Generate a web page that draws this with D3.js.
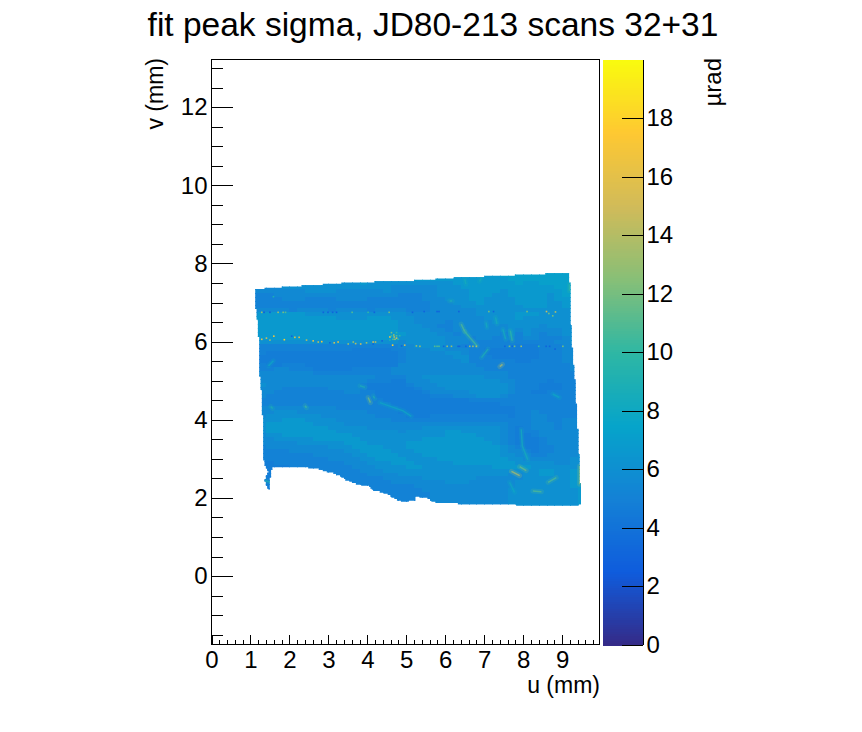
<!DOCTYPE html>
<html>
<head>
<meta charset="utf-8">
<script src="https://cdn.jsdelivr.net/npm/d3@7"></script>
<style>
  html, body { margin: 0; padding: 0; background: #fff; }
  svg { display: block; font-family: "Liberation Sans", Arial, sans-serif; }
  .axis path, .axis line { stroke: #000; stroke-width: 1; shape-rendering: crispEdges; }
  .axis text { fill: #000; font-size: 24px; font-family: "Liberation Sans", Arial, sans-serif; }
</style>
</head>
<body>
<svg id="chart" width="862" height="732"></svg>
<script>
// labels
const titleText = 'fit peak sigma, JD80-213 scans 32+31';
const xLabel = 'u (mm)';
const yLabel = 'v (mm)';
const zLabel = 'µrad';

// axis ranges and ticks
const xRange = [0, 9.96];
const yRange = [-1.75, 13.22];
const zRange = [0, 20];
const xTicks = [0, 1, 2, 3, 4, 5, 6, 7, 8, 9];
const yTicks = [0, 2, 4, 6, 8, 10, 12];
const zTicks = [0, 2, 4, 6, 8, 10, 12, 14, 16, 18];

// ROOT kBird palette
const birdStops = [0, 2.5, 5, 7.5, 10, 12.5, 15, 17.5, 20];
const birdColors = ['#352a87', '#0f5cdd', '#1481d6', '#06a4ca', '#2eb7a4', '#87bf77', '#d1bb59', '#fec832', '#f9fb0e'];

// sigma map: one string per row, one digit per cell
const gridU = d3.range(43).map(j => +(1.0 + 0.2 * j).toFixed(1));
const gridV = d3.range(61).map(i => +(7.8 - 0.1 * i).toFixed(1));
const levelValues = [3.9, 4.3, 4.7, 5.1, 5.6, 6.1, 6.7, 7.2, 7.7, 8.2];
const gridRows = [
  '66666 66666 66666 66666 66666 66666 66777 77777 777',
  '66666 66666 66666 66666 66666 66666 66777 77777 777',
  '55555 55555 55566 66666 66666 66666 66677 77777 777',
  '45555 55555 55556 55555 55555 56666 66667 66777 777',
  '44445 55555 55555 55544 44445 55666 66666 66667 777',
  '44444 44555 54444 44544 44445 55566 66566 66666 777',
  '33344 44444 44444 44443 33445 55566 65566 66656 777',
  '33334 44333 34444 33333 33444 55566 55556 66656 667',
  '33333 33333 33333 33333 33344 45556 55556 66655 667',
  '33333 33333 33333 33333 33344 44555 55555 66655 667',
  '44444 34444 34444 34444 33344 44445 55555 55555 567',
  '56666 66555 55555 55555 44444 44445 55556 66555 557',
  '66666 66666 65555 66655 54444 44444 55556 55555 556',
  '66666 66666 66666 66665 54444 34444 45555 55555 556',
  '66666 66666 66666 66665 55443 34444 44455 55455 556',
  '66666 66666 66666 66665 55544 34444 44454 54444 556',
  '66666 66666 66666 66666 55554 43444 44353 54344 555',
  '66666 66666 66666 66665 55555 44434 43343 44333 455',
  '55555 55555 55555 55554 55555 44433 33333 33334 455',
  '33333 33333 33333 33334 45555 44333 33332 22333 445',
  '33333 33333 33322 22233 44455 44433 22222 22333 445',
  '33222 22222 22222 22223 44444 55433 22222 22333 444',
  '22222 22222 22222 22223 44444 45533 32222 22333 444',
  '22222 22222 22222 22223 44444 44533 33332 23333 444',
  '33223 33222 22222 22224 44444 44443 33333 33333 344',
  '33344 33322 22233 33344 44444 44444 33333 33333 344',
  '44444 44433 33333 33344 44444 44444 44433 33333 334',
  '44444 44444 44444 43333 44555 55555 44433 33333 334',
  '44444 44444 44444 33322 44455 55555 55443 33323 334',
  '45444 44444 44443 22222 34445 55555 55543 33222 334',
  '44443 33333 44443 22222 23444 55555 55543 33222 333',
  '44433 33333 33443 32222 22344 44455 55543 32233 333',
  '44333 33333 33333 32222 22233 34445 55433 33333 333',
  '33333 33333 33333 33222 22222 22233 33333 33333 333',
  '43333 33333 33333 33322 22222 22222 22333 33333 333',
  '44444 44444 43333 33332 22222 22222 22223 33333 333',
  '44455 54444 44444 33332 22222 22222 22223 34333 333',
  '44555 55554 44444 43333 22233 33333 33323 34433 333',
  '45556 66555 54444 44433 33333 33333 33333 34433 444',
  '55666 66655 55444 44444 44444 44444 44433 34443 444',
  '55666 66666 55555 44444 44555 55555 55432 34443 444',
  '45666 66666 65555 55554 55555 66555 55432 33444 444',
  '44556 66666 66655 55555 55555 66665 55432 23444 444',
  '44455 55566 66665 55555 55666 66666 55432 22344 444',
  '44444 45555 55666 55555 66666 66666 65432 22344 444',
  '33444 44444 55566 66555 66666 66666 66543 22334 444',
  '33333 44444 44556 66655 56666 66666 66544 32334 444',
  '33333 33344 44455 66665 55666 66666 66554 43344 445',
  '33333 33333 44445 56666 55556 66666 66655 44444 455',
  '22233 33333 33444 55566 65555 56666 66665 55554 455',
  '22222 33333 33344 45555 66555 55555 56666 65555 556',
  '22222 22333 33334 44555 55555 55555 55555 55665 566',
  '22222 22233 33333 44445 55555 55555 55544 55665 566',
  '22222 22222 33333 33444 44555 55554 44444 55555 566',
  '22222 22222 22333 33344 44444 55544 44445 55555 566',
  '22222 22222 22233 33333 34444 44444 44445 55555 566',
  '22222 22222 22222 33333 33444 44444 44455 55555 556',
  '22222 22222 22222 23333 33344 44444 44455 55555 556',
  '22222 22222 22222 22233 33344 44444 44455 55555 556',
  '22222 22222 22222 22233 33344 44444 44455 55555 556',
  '22222 22222 22222 22233 33344 44444 44455 55555 556'
];

// outline of the scanned area [u, v]
const outline = [
  [1.115, 7.34], [1.83, 7.40], [3.55, 7.51], [5.35, 7.57], [6.12, 7.63], [9.14, 7.76],
  [9.19, 7.73], [9.24, 6.11], [9.34, 4.92], [9.45, 2.82], [9.49, 1.85], [9.40, 1.80],
  [8.94, 1.80], [6.63, 1.84], [5.77, 1.88], [5.65, 1.93], [5.52, 2.01], [5.26, 2.03],
  [5.22, 1.93], [4.91, 1.91], [4.75, 1.97], [4.58, 2.07], [4.40, 2.14], [4.14, 2.20],
  [4.06, 2.30], [3.91, 2.32], [3.68, 2.38], [3.55, 2.42], [3.34, 2.54], [3.17, 2.63],
  [2.91, 2.68], [2.73, 2.75], [2.14, 2.80], [1.56, 2.80], [1.54, 2.65], [1.51, 2.49],
  [1.51, 2.31], [1.50, 2.21], [1.456, 2.26], [1.39, 2.36], [1.37, 2.49], [1.456, 2.69],
  [1.397, 2.82], [1.346, 2.874], [1.32, 3.90], [1.27, 4.87], [1.24, 5.13], [1.23, 6.02],
  [1.18, 6.28], [1.17, 6.71], [1.115, 6.97]
];

// lighter ridges in the map
const ridgeValues = [11, 10.5, 8.5, 10, 14, 9, 8.5, 8.5, 9, 8.5, 8.5, 10, 12, 9, 9, 10.5, 9, 8, 9, 8, 14, 12, 8.5, 11, 11, 13, 8, 8];
const ridgePaths = [
  [[6.41, 6.45], [6.50, 6.26]],
  [[6.50, 6.26], [6.67, 6.06], [6.82, 5.89]],
  [[7.48, 6.32], [7.55, 6.06]],
  [[7.67, 6.28], [7.72, 6.02]],
  [[7.40, 5.36], [7.47, 5.42]],
  [[7.10, 5.81], [6.93, 5.59]],
  [[7.05, 6.49], [7.07, 6.36]],
  [[7.29, 6.62], [7.33, 6.45]],
  [[6.11, 7.04], [6.18, 7.04]],
  [[6.50, 7.60], [6.53, 7.47]],
  [[6.93, 7.64], [6.88, 7.54]],
  [[9.19, 7.47], [9.19, 7.30]],
  [[4.02, 4.57], [4.08, 4.44]],
  [[4.15, 4.61], [4.19, 4.55]],
  [[3.81, 4.87], [3.94, 4.83]],
  [[2.40, 4.36], [2.44, 4.31]],
  [[1.52, 4.34], [1.57, 4.29]],
  [[4.32, 4.44], [4.92, 4.23], [5.13, 4.09]],
  [[1.37, 2.44], [1.52, 2.40]],
  [[1.59, 5.51], [1.46, 5.38]],
  [[7.70, 2.68], [7.91, 2.57]],
  [[7.91, 2.80], [8.08, 2.70]],
  [[7.95, 3.76], [7.98, 3.33], [8.12, 2.98]],
  [[8.64, 2.40], [8.85, 2.52]],
  [[8.25, 2.18], [8.47, 2.16]],
  [[9.45, 2.82], [9.45, 2.35]],
  [[8.76, 4.66], [8.93, 4.57]],
  [[7.65, 2.40], [7.78, 2.14]]
];

// single outlier bins [u, v, sigma]
const outliers = [
  [1.29, 6.75, 13], [1.35, 6.75, 2.5], [1.50, 6.75, 2.5], [1.71, 6.75, 13], [1.84, 6.75, 12], [1.90, 6.75, 11],
  [2.87, 6.75, 3], [2.99, 6.75, 3], [3.11, 6.75, 3], [3.21, 6.75, 2.5], [3.61, 6.75, 11], [4.02, 6.75, 10],
  [4.18, 6.75, 3], [4.56, 6.75, 12], [5.16, 6.75, 3], [5.46, 6.77, 3], [5.79, 6.77, 3], [5.84, 6.77, 3],
  [6.35, 6.77, 3], [7.12, 6.77, 12], [7.24, 6.77, 3], [8.10, 6.77, 12], [8.60, 6.77, 15], [8.66, 6.72, 12],
  [8.76, 6.66, 12], [8.83, 6.76, 14],
  [1.29, 6.06, 16], [1.41, 6.09, 15], [1.50, 6.04, 13], [1.60, 6.14, 17], [1.87, 6.05, 18], [2.06, 6.14, 3],
  [2.14, 6.11, 16], [2.25, 6.11, 16], [2.44, 6.04, 14], [2.61, 6.02, 16], [2.74, 5.99, 14], [2.83, 6.00, 17],
  [3.04, 5.97, 3], [3.15, 5.97, 15], [3.25, 5.99, 16], [3.51, 5.94, 13], [3.64, 5.99, 13], [3.70, 5.95, 14],
  [3.83, 5.94, 15], [3.98, 5.97, 13], [4.15, 5.99, 15], [4.21, 5.99, 14], [4.15, 5.94, 3], [4.38, 6.02, 3],
  [4.58, 6.12, 17], [4.65, 5.91, 18], [4.75, 6.09, 15], [4.69, 6.12, 14], [4.88, 5.89, 3], [4.96, 5.91, 15],
  [5.26, 5.89, 13],
  [4.62, 6.23, 12], [4.68, 6.17, 13], [4.75, 6.15, 11], [4.62, 6.15, 10], [4.71, 6.06, 13], [4.79, 6.06, 10],
  [4.75, 6.23, 10], [4.66, 6.06, 11], [4.58, 6.04, 9], [4.83, 6.15, 10], [1.59, 7.15, 9],
  [5.35, 5.88, 13], [5.73, 5.88, 11], [5.79, 5.88, 11], [5.84, 5.88, 11], [5.96, 5.88, 3], [6.05, 5.88, 13],
  [6.16, 5.88, 13], [6.33, 5.88, 3], [6.37, 5.88, 3], [6.53, 5.88, 3], [6.63, 5.88, 13], [6.71, 5.88, 13],
  [6.80, 5.88, 14], [7.53, 5.88, 3], [7.65, 5.88, 12], [7.72, 5.88, 3], [7.78, 5.88, 12], [7.95, 5.88, 13],
  [8.40, 5.88, 10], [8.59, 5.88, 3], [8.68, 5.88, 3], [8.82, 5.81, 3], [9.02, 5.88, 12]
];

const margin = { left: 211.5, right: 599.5, top: 59.5, bottom: 644.5 };
const barLeft = 603, barRight = 642.5;
const binSize = 0.034;   // width of one histogram bin in mm, gives the stepped edge

const svg = d3.select('#chart');
const x = d3.scaleLinear().domain(xRange).range([margin.left, margin.right]);
const y = d3.scaleLinear().domain(yRange).range([margin.bottom, margin.top]);
const z = d3.scaleLinear().domain(zRange).range([margin.bottom, margin.top]);
const color = d3.scaleLinear().domain(birdStops).range(birdColors);

const line = d3.line().x(d => x(d[0])).y(d => y(d[1]));
const stepLine = d3.line().x(d => x(d[0])).y(d => y(d[1])).curve(d3.curveStepAfter);

// snap the outline to the bin grid so the edge steps like the histogram does
function stepOutline(points) {
  const snapped = [];
  points.forEach((p, i) => {
    const q = points[(i + 1) % points.length];
    const n = Math.ceil(Math.hypot(q[0] - p[0], q[1] - p[1]) / binSize);
    for (let k = 0; k < n; k++) {
      const t = k / n;
      snapped.push([
        Math.round((p[0] + (q[0] - p[0]) * t) / binSize) * binSize,
        Math.round((p[1] + (q[1] - p[1]) * t) / binSize) * binSize
      ]);
    }
  });
  return snapped;
}

// clip the map to the scanned area
svg.append('clipPath').attr('id', 'scan')
  .append('path').attr('d', stepLine(stepOutline(outline)) + 'Z');

const map = svg.append('g').attr('clip-path', 'url(#scan)');

const cells = [];
gridRows.forEach((row, i) => {
  row.replace(/ /g, '').split('').forEach((c, j) => {
    cells.push({ u: gridU[j], v: gridV[i], value: levelValues[+c] });
  });
});

map.selectAll('rect.cell')
  .data(cells)
  .join('rect')
  .attr('class', 'cell')
  .attr('shape-rendering', 'crispEdges')
  .attr('x', d => x(d.u))
  .attr('y', d => y(d.v + 0.05))
  .attr('width', x(0.2) - x(0) + 1)
  .attr('height', y(0) - y(0.1) + 1)
  .attr('fill', d => color(d.value));

// soft halo round each ridge, then the ridge itself
map.selectAll('path.halo')
  .data(ridgePaths)
  .join('path')
  .attr('class', 'halo')
  .attr('d', line)
  .attr('fill', 'none')
  .attr('stroke-width', 5)
  .attr('stroke-linecap', 'round')
  .attr('stroke-opacity', 0.22)
  .attr('stroke', (d, i) => color(ridgeValues[i]));

map.selectAll('path.ridge')
  .data(ridgePaths)
  .join('path')
  .attr('class', 'ridge')
  .attr('d', line)
  .attr('fill', 'none')
  .attr('stroke-width', 1.5)
  .attr('stroke-opacity', 0.7)
  .attr('stroke', (d, i) => color(ridgeValues[i]));

map.selectAll('rect.outlier')
  .data(outliers)
  .join('rect')
  .attr('class', 'outlier')
  .attr('x', d => x(d[0]) - 0.8)
  .attr('y', d => y(d[1]) - 0.8)
  .attr('width', 1.6)
  .attr('height', 1.6)
  .attr('fill', d => color(d[2]));

// frame
svg.append('rect')
  .attr('x', margin.left).attr('y', margin.top)
  .attr('width', margin.right - margin.left).attr('height', margin.bottom - margin.top)
  .attr('fill', 'none').attr('stroke', '#000').attr('shape-rendering', 'crispEdges');

// x axis, ticks point into the frame
const xMinor = d3.range(0, 9.96, 0.2).filter(t => Math.abs(t - Math.round(t)) > 0.01);
svg.append('g').attr('class', 'axis')
  .attr('transform', `translate(0,${margin.bottom})`)
  .call(d3.axisBottom(x).tickValues(xMinor).tickSize(-5).tickSizeOuter(0).tickFormat(''))
  .call(g => g.select('.domain').remove());
svg.append('g').attr('class', 'axis')
  .attr('transform', `translate(0,${margin.bottom})`)
  .call(d3.axisBottom(x).tickValues(xTicks).tickSize(-10).tickSizeOuter(0).tickFormat(d3.format('d')))
  .call(g => g.select('.domain').remove())
  .call(g => g.selectAll('text').attr('y', 6).attr('dy', '0.71em'));

// y axis
const yMinor = d3.range(-1.5, 13.2, 0.5).filter(t => !yTicks.includes(t));
svg.append('g').attr('class', 'axis')
  .attr('transform', `translate(${margin.left},0)`)
  .call(d3.axisLeft(y).tickValues(yMinor).tickSize(-11).tickSizeOuter(0).tickFormat(''))
  .call(g => g.select('.domain').remove());
svg.append('g').attr('class', 'axis')
  .attr('transform', `translate(${margin.left},0)`)
  .call(d3.axisLeft(y).tickValues(yTicks).tickSize(-21).tickSizeOuter(0).tickFormat(d3.format('d')))
  .call(g => g.select('.domain').remove())
  .call(g => g.selectAll('text').attr('x', -4));

// colour bar
svg.append('g').attr('shape-rendering', 'crispEdges').selectAll('rect')
  .data(d3.range(255))
  .join('rect')
  .attr('x', barLeft)
  .attr('y', d => z((d + 1) * 20 / 255))
  .attr('width', barRight - barLeft)
  .attr('height', z(0) - z(20 / 255) + 1)
  .attr('fill', d => color((d + 0.5) * 20 / 255));

svg.append('g').attr('class', 'axis')
  .attr('transform', `translate(${barRight},0)`)
  .call(d3.axisRight(z).tickValues(zTicks).tickSize(-21).tickSizeOuter(0).tickFormat(d3.format('d')))
  .call(g => g.selectAll('text').attr('x', 4));

// texts
svg.append('text')
  .attr('x', 433).attr('y', 36)
  .attr('text-anchor', 'middle')
  .attr('font-size', 33.5)
  .text(titleText);

svg.append('text')
  .attr('x', 600).attr('y', 693)
  .attr('text-anchor', 'end')
  .attr('font-size', 23)
  .text(xLabel);

svg.append('text')
  .attr('transform', 'translate(163,58) rotate(-90)')
  .attr('text-anchor', 'end')
  .attr('font-size', 23)
  .text(yLabel);

svg.append('text')
  .attr('transform', 'translate(721,58) rotate(-90)')
  .attr('text-anchor', 'end')
  .attr('font-size', 24)
  .text(zLabel);
</script>
</body>
</html>
